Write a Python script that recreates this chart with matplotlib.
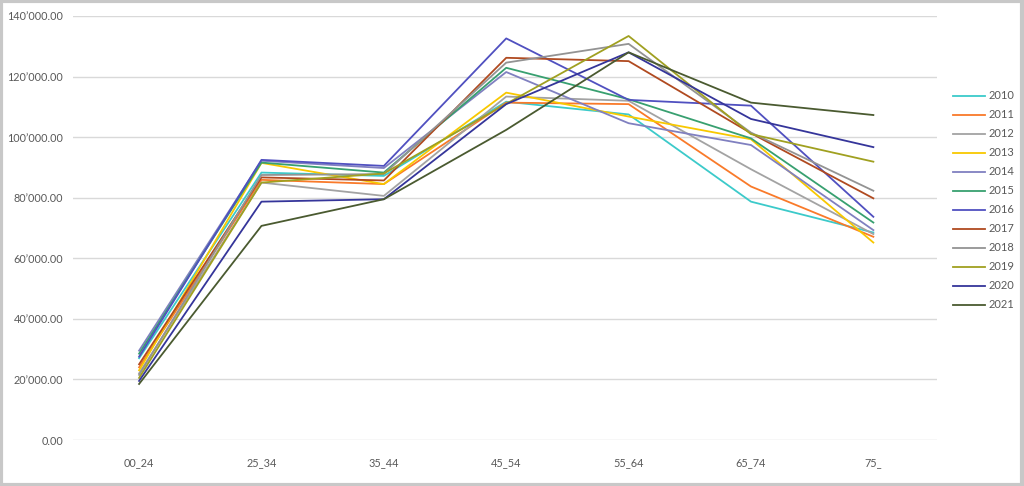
import matplotlib
matplotlib.use("Agg")
import matplotlib.pyplot as plt
from matplotlib.ticker import FuncFormatter
from matplotlib.patches import Rectangle

categories = ["00_24", "25_34", "35_44", "45_54", "55_64", "65_74", "75_"]
years = ["2010", "2011", "2012", "2013", "2014", "2015", "2016", "2017", "2018", "2019", "2020", "2021"]

s2010 = [27000, 88300, 87200, 111700, 107500, 78700, 68500]
s2011 = [24000, 85900, 84500, 111400, 110900, 83700, 67100]
s2012 = [22000, 85000, 80600, 113400, 112000, 89400, 68000]
s2013 = [23000, 91500, 84500, 114700, 106800, 99300, 65200]
s2014 = [29500, 92200, 89800, 121500, 104600, 97400, 69300]
s2015 = [28500, 91600, 88300, 122900, 112500, 99600, 71800]
s2016 = [27500, 92500, 90500, 132600, 112300, 110400, 73700]
s2017 = [25000, 86700, 85700, 126200, 125100, 101300, 79800]
s2018 = [21500, 87500, 87800, 124600, 130800, 101500, 82300]
s2019 = [20500, 85000, 88000, 111000, 133400, 101000, 91900]
s2020 = [19500, 78700, 79500, 110900, 128000, 106000, 96700]
s2021 = [18500, 70700, 79500, 102400, 128000, 111400, 107300]

series = [s2010, s2011, s2012, s2013, s2014, s2015, s2016, s2017, s2018, s2019, s2020, s2021]
colors = ["#3ccaca", "#f97a2a", "#a3a3a3", "#f8c800", "#8080c0", "#38a070",
          "#5050c0", "#b04a20", "#939393", "#a0a020", "#35359a", "#4a5a30"]

fig = plt.figure(figsize=(10.24, 4.86), dpi=100)
plt.rcParams['font.family'] = ['Lato', 'DejaVu Sans']
ax = fig.add_axes([73/1024, 1-440/486, (937-73)/1024, (440-16)/486])

x = list(range(len(categories)))
for yr, vals, c in zip(years, series, colors):
    ax.plot(x, vals, color=c, lw=1.3, label=yr)

ax.set_xlim(-0.54, 6.52)
ax.set_ylim(0, 140000)
ax.set_yticks(range(0, 140001, 20000))
ax.set_xticks(x)
ax.set_xticklabels(categories)

def fmt(v, pos):
    if v == 0:
        return "0.00"
    return f"{int(v)//1000}\u2019000.00"

ax.yaxis.set_major_formatter(FuncFormatter(fmt))
ax.grid(axis='y', color='#d9d9d9', lw=1)
ax.set_axisbelow(True)
for sp in ax.spines.values():
    sp.set_visible(False)
ax.tick_params(axis='both', length=0, labelsize=7.8, colors='#595959')
ax.tick_params(axis='y', pad=7)
ax.tick_params(axis='x', pad=12)

leg = ax.legend(loc='upper left', bbox_to_anchor=(949/1024, 1-86/486), bbox_transform=fig.transFigure,
                frameon=False, fontsize=8, handlelength=2.8, handletextpad=0.4,
                labelspacing=0.72, borderaxespad=0)
for t in leg.get_texts():
    t.set_color('#595959')

fig.patches.append(Rectangle((0.001, 0.002), 0.997, 0.995, transform=fig.transFigure,
                             fill=False, edgecolor='#c8c8c8', lw=3))

fig.savefig("out.png", dpi=100)
